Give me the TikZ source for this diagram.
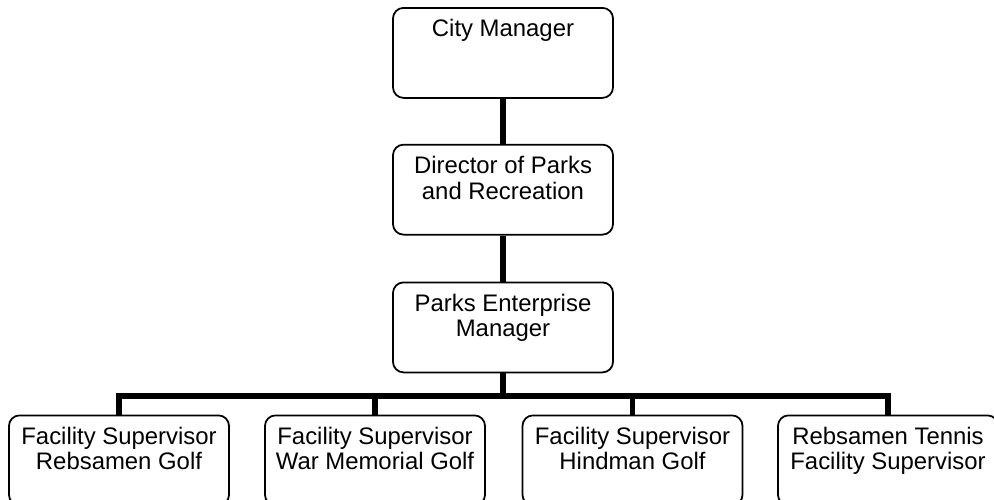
\documentclass[tikz,border=0pt]{standalone}
\usepackage{fontspec}
\setmainfont{Liberation Sans}
\usetikzlibrary{positioning}
\tikzset{
  post/.style={draw,rounded corners=6pt,line width=1pt,inner sep=0pt},
  link/.style={line width=3.2pt},
}
\newcommand{\posttext}[1]{\parbox[c][1.8cm][t]{4.4cm}{\centering\vspace*{6.5pt}#1\par}}

\begin{document}
\begin{tikzpicture}[x=1cm,y=1cm,font=\fontsize{13.6}{14.7}\selectfont]
\useasboundingbox (0,0) rectangle (19.88,-9.98);
\node[post,anchor=north] (cm) at (10.06,-0.14) {\posttext{City Manager}};
\node[post,below=0.9cm of cm] (dpr) {\posttext{Director of Parks\\and Recreation}};
\node[post,below=0.92cm of dpr] (pem) {\posttext{Parks Enterprise\\Manager}};
\coordinate[below=0.46cm of pem] (hub);
\foreach \name/\x/\lab in {fsr/2.38/{Facility Supervisor\\Rebsamen Golf},fsw/7.5/{Facility Supervisor\\War Memorial Golf},fsh/12.65/{Facility Supervisor\\Hindman Golf},rtf/17.76/{Rebsamen Tennis\\Facility Supervisor}}
{\node[post,anchor=north] (\name) at (\x,-8.29) {\posttext{\lab}};}
\draw[link] (cm.south)--(dpr.north);
\draw[link] (dpr.south)--(pem.north);
\draw[link] (pem.south)--(hub);
\foreach \b in {fsr,fsw,fsh,rtf} {\draw[link] (hub) -| (\b.north);}
\end{tikzpicture}
\end{document}
